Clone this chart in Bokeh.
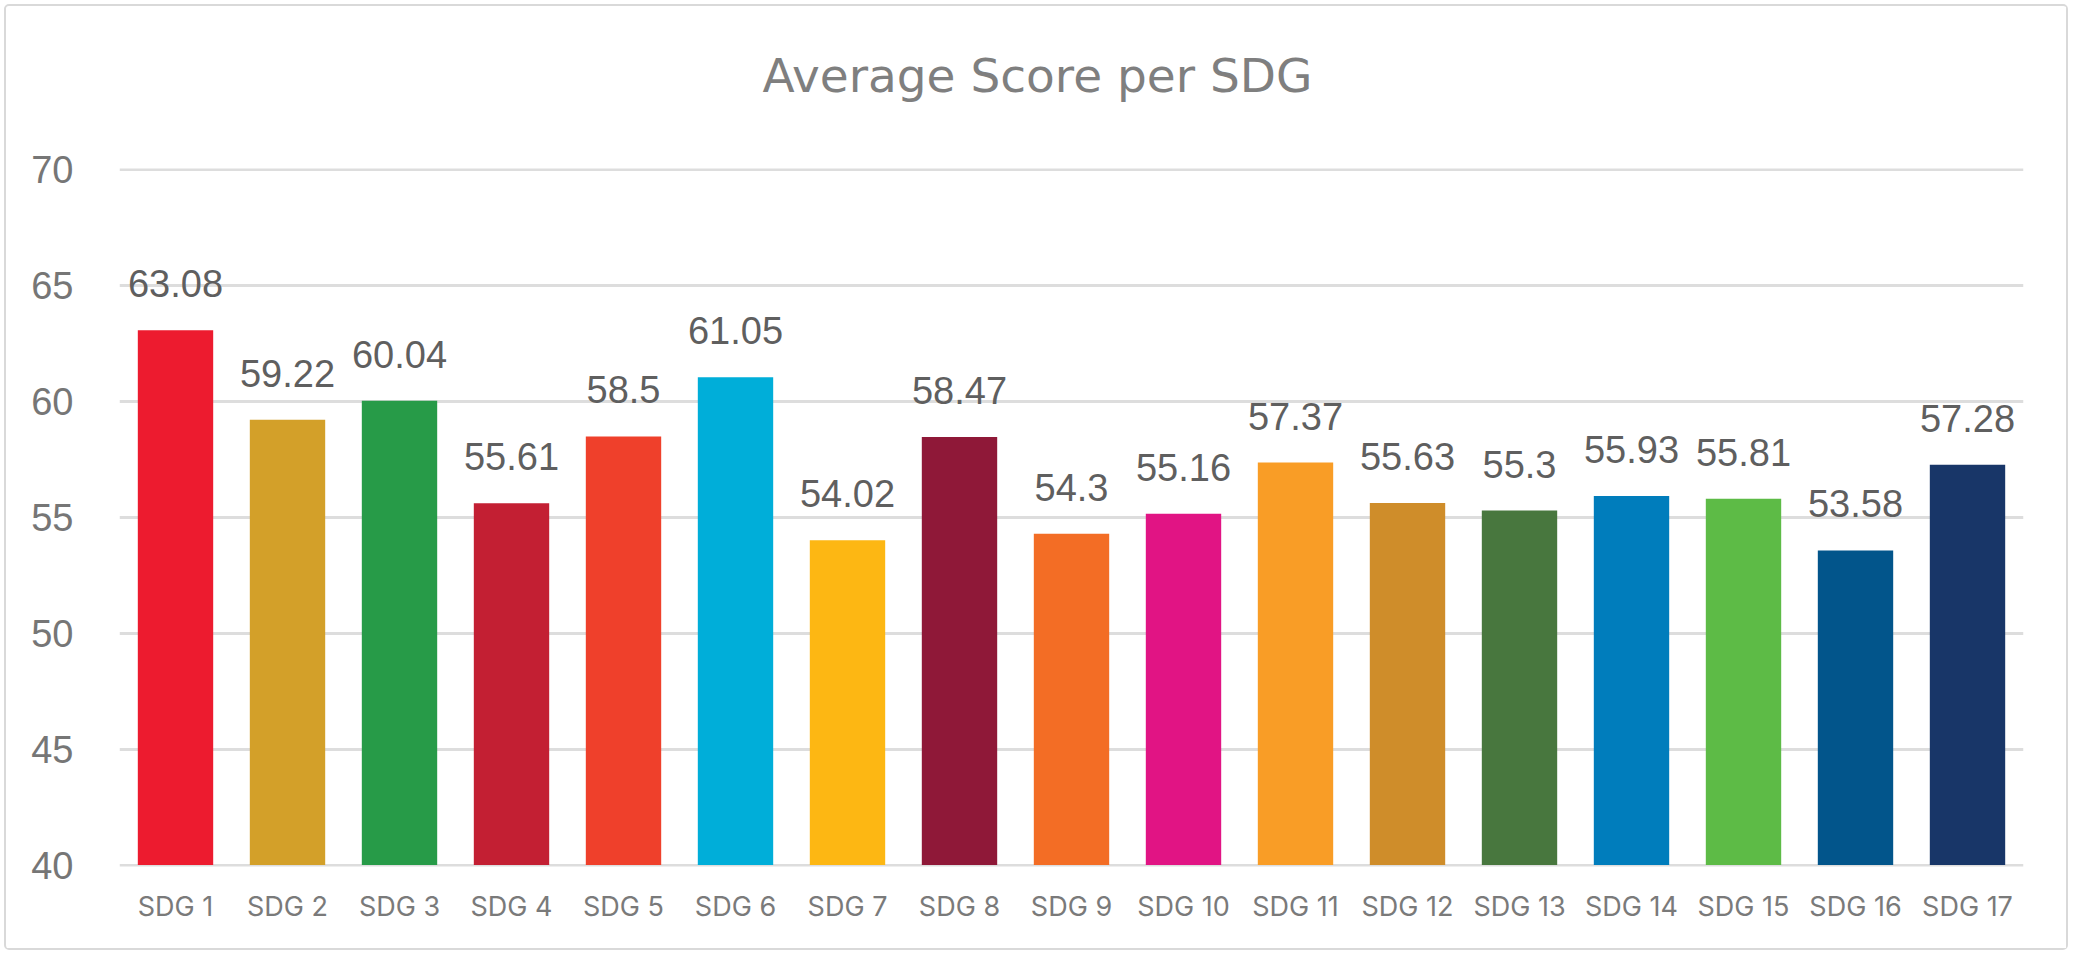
from bokeh.plotting import figure
from bokeh.models import ColumnDataSource, Range1d, LabelSet, SingleIntervalTicker, Title
from bokeh.core.properties import value
from bokeh.embed import file_html
from bokeh.resources import INLINE

categories = ["SDG 1", "SDG 2", "SDG 3", "SDG 4", "SDG 5", "SDG 6", "SDG 7", "SDG 8", "SDG 9",
              "SDG 10", "SDG 11", "SDG 12", "SDG 13", "SDG 14", "SDG 15", "SDG 16", "SDG 17"]
scores = [63.08, 59.22, 60.04, 55.61, 58.5, 61.05, 54.02, 58.47, 54.3,
          55.16, 57.37, 55.63, 55.3, 55.93, 55.81, 53.58, 57.28]
colors = ["#ED1B2F", "#D3A029", "#279B48", "#C31F33", "#EF402B", "#00AED9", "#FDB713", "#8F1838",
          "#F36D25", "#E11484", "#F99D26", "#CF8D2A", "#48773E", "#007DBC", "#5DBB46", "#02558B", "#183668"]
title_text = "Average Score per SDG"
y_min, y_max, y_step = 40, 70, 5

NUM_FONT = "Liberation Sans"
CAT_FONT = "Inter"
TITLE_FONT = "DejaVu Sans"

src = ColumnDataSource(dict(cat=categories, val=scores, col=colors,
                            lab=[str(v) for v in scores]))

pad = 0.06
p = figure(x_range=categories, y_range=Range1d(y_min - pad, y_max + pad),
           width=2064, height=946, output_backend="svg", toolbar_location=None,
           title=None,
           min_border_left=113, min_border_right=47, min_border_top=162, min_border_bottom=86)
p.styles = {"margin": "4px 0 0 4px", "border": "2px solid #D9D9D9", "border-radius": "5px"}
p.outline_line_color = None
p.background_fill_color = "white"
p.border_fill_color = "white"

# spacer between the frame and the title
p.add_layout(Title(text=" ", text_font=TITLE_FONT, text_font_size="29px", standoff=0), "above")
p.add_layout(Title(text=title_text, align="left", offset=643, text_font=TITLE_FONT,
                   text_font_size="47px", text_font_style="normal", text_color="#7F7F7F",
                   standoff=60), "above")

p.vbar(x="cat", top="val", bottom=y_min, width=0.673, fill_color="col", line_color=None, source=src)

p.add_layout(LabelSet(x="cat", y="val", text="lab", source=src, text_align="center",
                      text_baseline="alphabetic", y_offset=33, text_font=value(NUM_FONT),
                      text_font_size="38px", text_color="#5F5F5F"))

p.yaxis.ticker = SingleIntervalTicker(interval=y_step)
p.xgrid.grid_line_color = None
p.ygrid.grid_line_color = "#DDDDDD"
p.ygrid.grid_line_width = 3

for ax in (p.xaxis[0], p.yaxis[0]):
    ax.axis_line_color = None
    ax.major_tick_line_color = None
    ax.minor_tick_line_color = None
    ax.major_label_text_color = "#767676"

p.yaxis.major_label_text_font = NUM_FONT
p.yaxis.major_label_text_font_size = "38px"
p.yaxis.major_label_standoff = 40
p.xaxis.major_label_text_font = CAT_FONT
p.xaxis.major_label_text_font_size = "27px"
p.xaxis.major_label_text_color = "#7A7A7A"
p.xaxis.major_label_standoff = 17

open("out.html", "w").write(file_html(p, INLINE))
